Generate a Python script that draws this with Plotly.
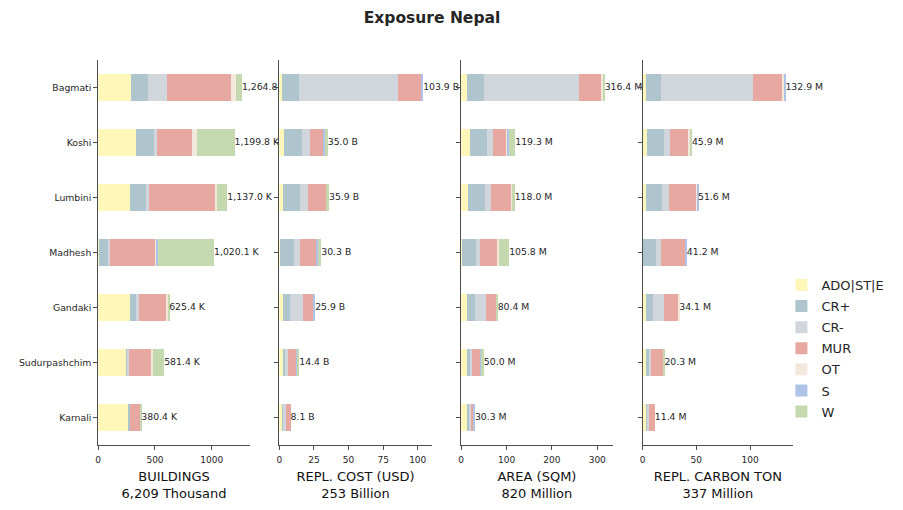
import plotly.graph_objects as go

# ---------------- data ----------------
regions = ["Bagmati", "Koshi", "Lumbini", "Madhesh", "Gandaki", "Sudurpashchim", "Karnali"]
classes = ["ADO|ST|E", "CR+", "CR-", "MUR", "OT", "S", "W"]
colors = ["#fff6ba", "#aec5ce", "#d1d5dc", "#e8a8a2", "#f3e8dc", "#aec3e6", "#c5d9b1"]

# Buildings (thousand)
buildings = {
    "ADO|ST|E": [288, 330, 276, 4, 282, 245, 272],
    "CR+":      [150, 158, 141, 82, 53, 18, 9],
    "CR-":      [167, 26, 26, 18, 26, 9, 0],
    "MUR":      [563, 308, 588, 405, 246, 202, 90],
    "OT":       [44, 44, 18, 6, 9, 9, 0],
    "S":        [0, 0, 0, 12, 0, 0, 0],
    "W":        [53, 334, 88, 493, 9, 98, 9],
}
# Replacement cost (billion USD)
cost = {
    "ADO|ST|E": [1.9, 3.4, 2.6, 0.2, 2.6, 2.6, 2.8],
    "CR+":      [12.3, 13.0, 12.3, 10.6, 5.0, 2.2, 0.7],
    "CR-":      [71.4, 5.8, 5.8, 4.3, 9.4, 1.4, 1.4],
    "MUR":      [16.8, 9.9, 13.8, 12.3, 8.2, 6.6, 3.2],
    "OT":       [0.0, 0.0, 0.0, 0.0, 0.0, 0.2, 0.0],
    "S":        [1.5, 1.0, 0.0, 0.7, 0.7, 0.3, 0.0],
    "W":        [0.0, 1.9, 1.4, 2.2, 0.0, 1.1, 0.0],
}
# Area (million sqm)
area = {
    "ADO|ST|E": [11.8, 19.0, 14.0, 1.0, 11.8, 12.2, 14.5],
    "CR+":      [37.5, 37.5, 37.5, 31.6, 17.6, 8.8, 2.2],
    "CR-":      [209.6, 13.2, 13.2, 8.8, 24.3, 2.2, 4.4],
    "MUR":      [50.9, 30.9, 46.7, 40.1, 24.5, 20.0, 7.0],
    "OT":       [3.7, 2.2, 2.2, 2.2, 0.0, 0.6, 0.0],
    "S":        [0.0, 2.2, 0.0, 0.0, 0.0, 0.6, 2.2],
    "W":        [2.9, 14.3, 4.4, 22.1, 2.2, 5.6, 0.0],
}
# Replacement carbon (million ton)
carbon = {
    "ADO|ST|E": [3.1, 4.0, 3.1, 0.0, 3.3, 3.3, 3.3],
    "CR+":      [13.9, 15.8, 14.9, 12.4, 6.5, 2.8, 0.9],
    "CR-":      [85.4, 5.6, 6.5, 4.6, 10.2, 1.9, 1.9],
    "MUR":      [27.8, 16.7, 25.3, 22.3, 13.2, 11.4, 5.3],
    "OT":       [1.2, 1.9, 0.9, 0.0, 0.9, 0.0, 0.0],
    "S":        [1.5, 0.0, 0.9, 1.9, 0.0, 0.0, 0.0],
    "W":        [0.0, 1.9, 0.0, 0.0, 0.0, 0.9, 0.0],
}

total_labels_buildings = ["1,264.8 K", "1,199.8 K", "1,137.0 K", "1,020.1 K", "625.4 K", "581.4 K", "380.4 K"]
total_labels_cost = ["103.9 B", "35.0 B", "35.9 B", "30.3 B", "25.9 B", "14.4 B", "8.1 B"]
total_labels_area = ["316.4 M", "119.3 M", "118.0 M", "105.8 M", "80.4 M", "50.0 M", "30.3 M"]
total_labels_carbon = ["132.9 M", "45.9 M", "51.6 M", "41.2 M", "34.1 M", "20.3 M", "11.4 M"]

axis_titles = ["BUILDINGS<br>6,209 Thousand", "REPL. COST (USD)<br>253 Billion",
               "AREA (SQM)<br>820 Million", "REPL. CARBON TON<br>337 Million"]
x_ranges = [1335, 110, 334, 140]
x_dticks = [500, 25, 100, 50]

panels = [
    (buildings, total_labels_buildings),
    (cost, total_labels_cost),
    (area, total_labels_area),
    (carbon, total_labels_carbon),
]

# ---------------- layout geometry ----------------
W, H = 903, 510
x_domains = [(95.5, 247.7), (277.3, 430.0), (459.7, 611.7), (641.7, 792.7)]
y_dom = [1 - 445 / H, 1 - 60 / H]
FONT = "DejaVu Sans"
TXT = "#262626"
SPINE = "#4d4d4d"

fig = go.Figure()

for i, (data, labels) in enumerate(panels):
    xa = "x" if i == 0 else f"x{i+1}"
    ya = "y" if i == 0 else f"y{i+1}"
    for cls, col in zip(classes, colors):
        fig.add_trace(go.Bar(
            y=regions, x=data[cls], orientation="h", name=cls,
            marker=dict(color=col, line=dict(width=0)),
            width=0.5, xaxis=xa, yaxis=ya,
            showlegend=(i == 0), legendgroup=cls,
            hoverinfo="x+y+name",
        ))
    totals = [sum(data[c][k] for c in classes) for k in range(len(regions))]
    fig.add_trace(go.Scatter(
        x=totals, y=regions, mode="text", text=labels,
        textposition="middle right",
        textfont=dict(family=FONT, size=9.3, color=TXT),
        xaxis=xa, yaxis=ya, showlegend=False, cliponaxis=False,
        hoverinfo="skip",
    ))

layout = dict(
    width=W, height=H,
    margin=dict(l=0, r=0, t=0, b=0),
    paper_bgcolor="white", plot_bgcolor="white",
    barmode="stack",
    bargap=0.5,
    font=dict(family=FONT, color=TXT),
    title=dict(text="<b>Exposure Nepal</b>", x=432 / W, xanchor="center",
               y=1 - 17.5 / H, yanchor="middle",
               font=dict(family=FONT, size=15.5, color=TXT)),
    legend=dict(x=781 / W, y=1 - 270 / H, xanchor="left", yanchor="top",
                font=dict(family=FONT, size=13, color=TXT),
                traceorder="grouped", tracegroupgap=1.2,
                bgcolor="rgba(0,0,0,0)", itemwidth=30),
    showlegend=True,
)

for i in range(4):
    xk = "xaxis" if i == 0 else f"xaxis{i+1}"
    yk = "yaxis" if i == 0 else f"yaxis{i+1}"
    d0, d1 = x_domains[i]
    layout[xk] = dict(
        domain=[d0 / W, d1 / W], anchor="y" if i == 0 else f"y{i+1}",
        range=[0, x_ranges[i]], dtick=x_dticks[i], tick0=0,
        showgrid=False, zeroline=False,
        showline=True, linecolor=SPINE, linewidth=1,
        ticks="outside", ticklen=4, tickcolor=SPINE, tickwidth=1,
        ticklabelstandoff=2,
        tickfont=dict(family=FONT, size=9, color=TXT),
        title=dict(text=axis_titles[i], standoff=8,
                   font=dict(family=FONT, size=13, color="#111111")),
        fixedrange=True,
    )
    layout[yk] = dict(
        domain=y_dom, anchor="x" if i == 0 else f"x{i+1}",
        categoryorder="array", categoryarray=regions[::-1],
        range=[-0.5, len(regions) - 0.5],
        showgrid=False, zeroline=False,
        showline=True, linecolor=SPINE, linewidth=1,
        ticks="outside", ticklen=4, tickcolor=SPINE, tickwidth=1,
        showticklabels=(i == 0),
        tickfont=dict(family=FONT, size=9.3, color=TXT),
        fixedrange=True,
    )

fig.update_layout(**layout)
fig.write_html("out.html")
